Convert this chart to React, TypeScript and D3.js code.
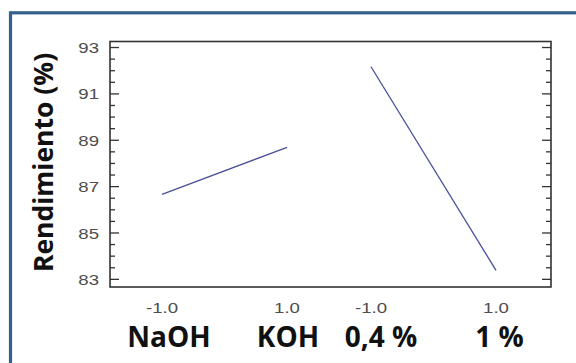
import * as d3 from "d3";

const WIDTH = 576;
const HEIGHT = 363;
const PLOT = { left: 110, right: 551, top: 41.5, bottom: 287 };

// factor levels (coded) and the means
const levels = [-1, 1];
const catalystYield = [86.67, 88.69];
const concentrationYield = [92.17, 83.39];
const levelTickLabels = ["-1.0", "1.0"];
const catalystLabels = ["NaOH", "KOH"];
const concentrationLabels = ["0,4 %", "1 %"];
const yTicks = d3.range(83, 93.01, 0.5);
const yMajor = [83, 85, 87, 89, 91, 93];

// second factor panel is shifted along the shared x scale
const PANEL_OFFSET = 3.344;
// hand placed nudges of the level names under the ticks
const LABEL_NUDGE = [7, 1, 10, 3.5];
// the source picture is stretched a little sideways
const STRETCH = 1.2;

const tickFont = {
  fontFamily: "Liberation Sans, Arial, sans-serif",
  fontSize: 15.5,
  fill: "#4d4d4d",
};

const App = () => {
  const x = d3.scaleLinear().domain([-1.832, 5.224]).range([PLOT.left, PLOT.right]);
  const y = d3.scaleLinear().domain([82.67, 93.26]).range([PLOT.bottom, PLOT.top]);

  const line = d3
    .line<[number, number]>()
    .x((d) => x(d[0]))
    .y((d) => y(d[1]));

  const series = [
    { values: catalystYield, offset: 0, names: catalystLabels },
    { values: concentrationYield, offset: PANEL_OFFSET, names: concentrationLabels },
  ];

  return (
    <svg
      width={WIDTH}
      height={HEIGHT}
      style={{ position: "absolute", left: 0, top: 0, background: "#fff" }}
    >
      {/* blue frame around the figure */}
      <rect x={10.5} y={12.8} width={640} height={400} fill="#fff" stroke="#35608c" strokeWidth={3.2} />

      {/* plot box */}
      <rect
        x={PLOT.left}
        y={PLOT.top}
        width={PLOT.right - PLOT.left}
        height={PLOT.bottom - PLOT.top}
        fill="none"
        stroke="#333"
        strokeWidth={1.6}
      />

      {/* y ticks on both sides, pointing inward */}
      {yTicks.map((v) => {
        const major = yMajor.includes(+v.toFixed(1));
        const len = major ? 9 : 5;
        return (
          <g key={v} stroke="#333" strokeWidth={1.3}>
            <line x1={PLOT.left} x2={PLOT.left + len} y1={y(v)} y2={y(v)} />
            <line x1={PLOT.right} x2={PLOT.right - len} y1={y(v)} y2={y(v)} />
          </g>
        );
      })}
      {yMajor.map((v) => (
        <text
          key={v}
          transform={`translate(${PLOT.left - 11},${y(v)}) scale(${STRETCH},1)`}
          dy="0.36em"
          textAnchor="end"
          {...tickFont}
        >
          {v}
        </text>
      ))}

      {series.map((s, si) => (
        <g key={si}>
          <path
            d={line(levels.map((l, i) => [l + s.offset, s.values[i]]) as [number, number][]) ?? ""}
            fill="none"
            stroke="#4a4e98"
            strokeWidth={1.3}
          />
          {levels.map((l, i) => (
            <g key={l}>
              <text
                transform={`translate(${x(l + s.offset)},312.5) scale(${STRETCH},1)`}
                textAnchor="middle"
                {...tickFont}
              >
                {levelTickLabels[i]}
              </text>
              <text
                x={x(l + s.offset) + LABEL_NUDGE[si * 2 + i]}
                y={346.5}
                textAnchor="middle"
                fontFamily="Open Sans, sans-serif"
                fontWeight="bold"
                fontSize={28}
                fill="#111"
              >
                {s.names[i]}
              </text>
            </g>
          ))}
        </g>
      ))}

      <text
        transform="translate(53,162.5) rotate(-90)"
        textAnchor="middle"
        fontFamily="Open Sans, sans-serif"
        fontWeight="bold"
        fontSize={26.5}
        fill="#111"
      >
        Rendimiento (%)
      </text>
    </svg>
  );
};

export default App;
